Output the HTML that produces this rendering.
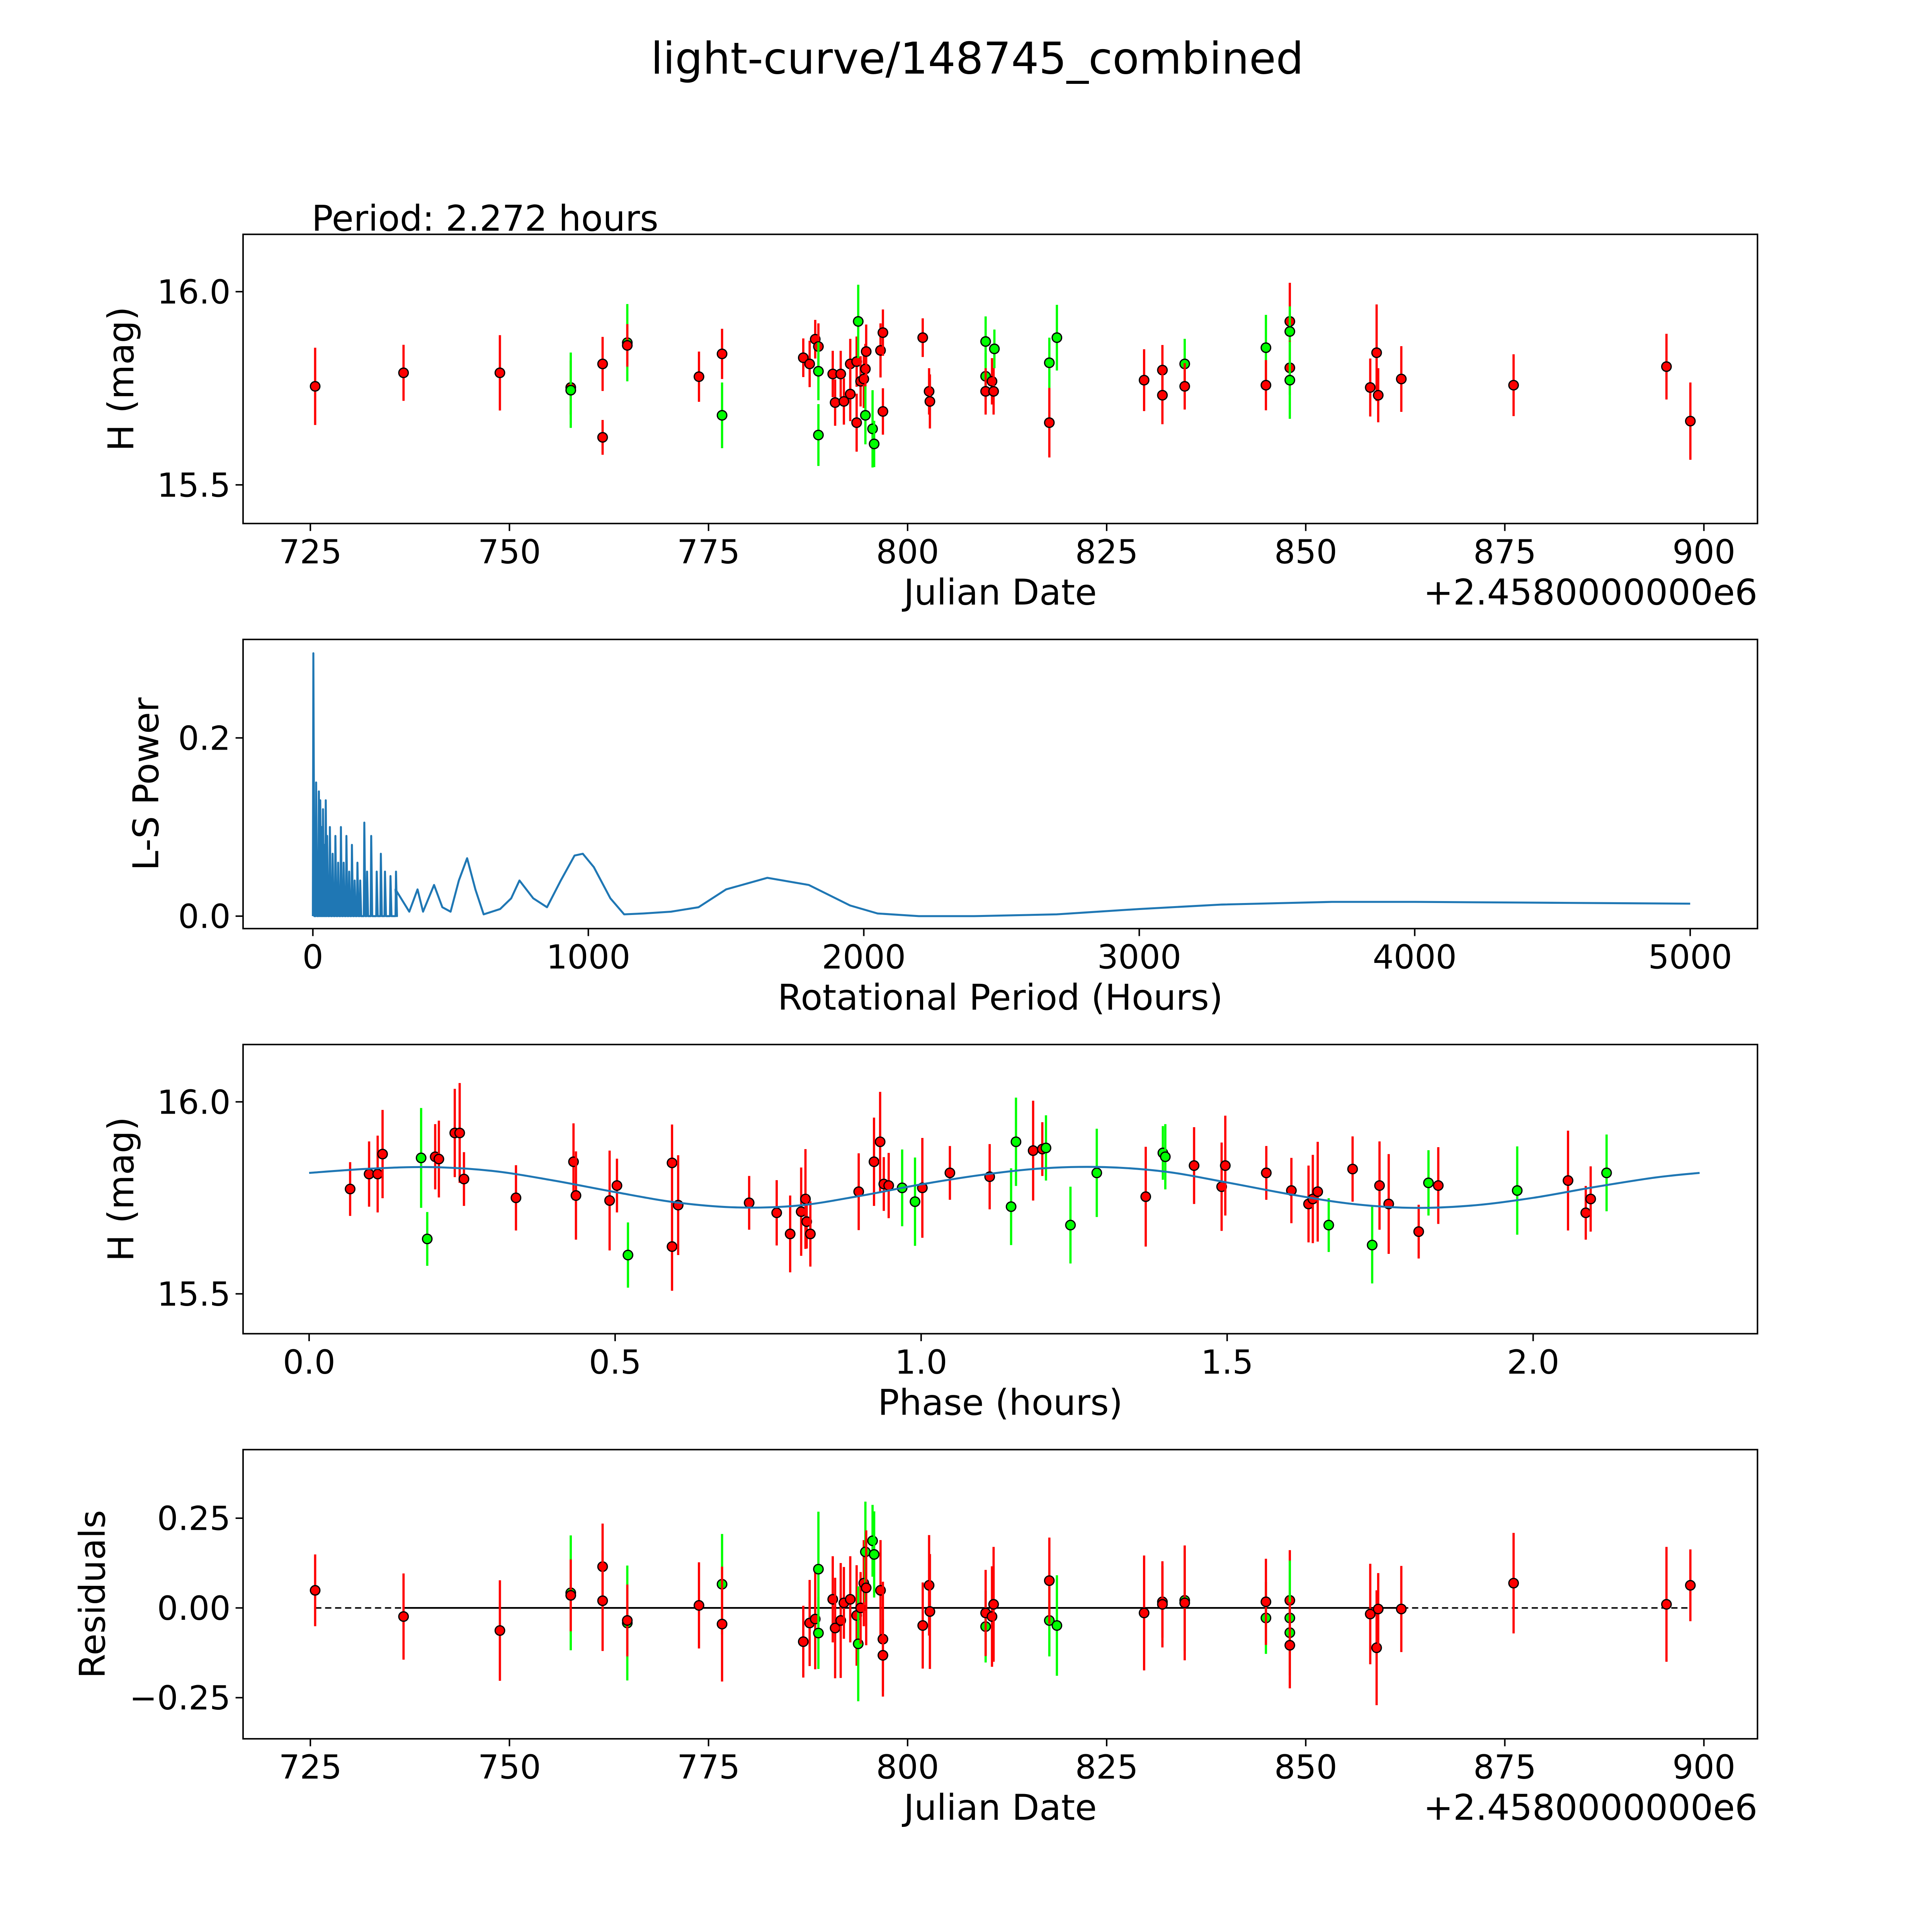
<!DOCTYPE html>
<html><head><meta charset="utf-8">
<style>
html,body{margin:0;padding:0;background:#fff;overflow:hidden;width:100%;height:100%;}
svg{display:block;width:100vw;height:100vh;}
text{font-family:"DejaVu Sans","Liberation Sans",sans-serif;fill:#000;}
</style></head>
<body>
<svg id="fig" viewBox="0 0 1550 1550" preserveAspectRatio="none" xmlns="http://www.w3.org/2000/svg">
<rect width="1550" height="1550" fill="#fff"/>
<text x="784" y="59" font-size="35" text-anchor="middle">light-curve/148745_combined</text>
<text x="250" y="185" font-size="28.5">Period: 2.272 hours</text>
</svg>
<script>
// ---- Panel 1: light curve ----
const lcDates=[725.6,736.7,748.8,757.7,757.7,761.7,761.7,764.8,764.8,773.8,776.7,776.7,786.9,787.7,788.4,788.8,788.8,788.8,790.6,790.9,791.6,792.0,792.8,792.8,793.6,793.8,793.6,794.1,794.5,794.7,794.8,794.7,795.6,795.8,796.6,796.9,796.9,801.9,802.7,802.8,809.8,809.8,809.8,810.6,810.8,810.9,817.8,817.8,818.75,829.7,832.0,832.0,834.8,834.8,845.0,845.0,848.0,848.0,848.0,848.0,858.1,858.9,859.1,862.0,876.1,895.3,898.3];
const lcMags=[15.755,15.79,15.79,15.752,15.745,15.813,15.623,15.868,15.861,15.78,15.839,15.68,15.829,15.813,15.877,15.858,15.794,15.629,15.787,15.713,15.787,15.716,15.813,15.735,15.819,15.923,15.661,15.768,15.774,15.8,15.845,15.68,15.645,15.606,15.848,15.894,15.69,15.881,15.742,15.716,15.871,15.781,15.742,15.768,15.742,15.852,15.816,15.661,15.881,15.771,15.797,15.732,15.813,15.755,15.855,15.758,15.923,15.897,15.803,15.771,15.752,15.842,15.732,15.774,15.758,15.806,15.665];
const lcErrs=[0.2,0.145,0.195,0.14,0.195,0.14,0.09,0.2,0.11,0.13,0.13,0.17,0.1,0.12,0.1,0.12,0.15,0.16,0.12,0.12,0.12,0.12,0.13,0.14,0.13,0.19,0.15,0.13,0.15,0.13,0.14,0.15,0.2,0.12,0.14,0.12,0.12,0.1,0.12,0.14,0.13,0.12,0.12,0.12,0.12,0.1,0.13,0.18,0.17,0.16,0.13,0.15,0.13,0.12,0.17,0.13,0.2,0.13,0.14,0.2,0.15,0.25,0.14,0.17,0.16,0.17,0.2];
const lcColors=['r','r','r','r','g','r','r','g','r','r','r','g','r','r','r','r','g','g','r','r','r','r','r','r','r','g','r','r','r','r','r','g','g','g','r','r','r','r','r','r','g','g','r','r','r','g','g','r','g','r','r','r','g','r','g','r','r','g','r','g','r','r','r','r','r','r','r'];
const lcXTicks=[725,750,775,800,825,850,875,900];
const lcYTicks=[15.5,16.0];
// ---- Panel 2: periodogram ----
const spikePeriods=[0,10,20,25,30,35,40,45,50,60,70,80,90,100,110,120,130,140,150,160,170,185,195,210,230,245,260,280,300];
const spikePowers=[0.295,0.15,0.14,0.13,0.1,0.12,0.08,0.13,0.09,0.1,0.07,0.09,0.06,0.1,0.06,0.09,0.05,0.08,0.04,0.06,0.04,0.105,0.05,0.09,0.05,0.07,0.05,0.045,0.05];
const lsPeriods=[300,350,380,400,440,470,500,530,560,590,620,680,720,750,800,850,900,950,980,1020,1080,1130,1200,1300,1400,1500,1650,1800,1950,2050,2200,2400,2700,3000,3300,3700,4000,4500,5000];
const lsPowers=[0.03,0.005,0.03,0.005,0.035,0.01,0.005,0.04,0.065,0.03,0.002,0.008,0.02,0.04,0.02,0.01,0.04,0.068,0.07,0.055,0.02,0.002,0.003,0.005,0.01,0.03,0.043,0.035,0.012,0.003,0.0,0.0,0.002,0.008,0.013,0.016,0.016,0.015,0.014];
const lsXTicks=[0,1000,2000,3000,4000,5000];
const lsYTicks=[0.0,0.2];
const lsYLabels=['0.0','0.2'];
// ---- Panel 3: phased ----
const phPhase=[0.067,0.098,0.112,0.120,0.183,0.193,0.206,0.212,0.238,0.246,0.253,0.338,0.432,0.436,0.491,0.503,0.521,0.593,0.593,0.603,0.719,0.764,0.786,0.804,0.811,0.813,0.819,0.898,0.923,0.933,0.939,0.947,0.969,0.990,1.002,1.047,1.112,1.147,1.155,1.183,1.198,1.204,1.244,1.287,1.367,1.395,1.399,1.446,1.491,1.497,1.564,1.605,1.633,1.640,1.648,1.666,1.705,1.737,1.749,1.764,1.813,1.829,1.845,1.974,2.057,2.086,2.094,2.120];
const phMags=[15.773,15.812,15.812,15.864,15.854,15.643,15.857,15.851,15.919,15.919,15.799,15.75,15.844,15.756,15.743,15.782,15.601,15.841,15.623,15.731,15.737,15.711,15.656,15.714,15.747,15.688,15.656,15.766,15.844,15.896,15.786,15.782,15.776,15.74,15.776,15.815,15.805,15.727,15.896,15.873,15.877,15.88,15.679,15.815,15.753,15.867,15.857,15.834,15.779,15.834,15.815,15.769,15.734,15.747,15.766,15.679,15.825,15.627,15.782,15.734,15.662,15.789,15.782,15.769,15.795,15.711,15.747,15.815];
const phColors=['r','r','r','r','g','g','r','r','r','r','r','r','r','r','r','r','g','r','r','r','r','r','r','r','r','r','r','r','r','r','r','r','g','g','r','r','r','g','g','r','r','g','g','g','r','g','g','r','r','r','r','r','r','r','r','g','r','g','r','r','r','g','r','g','r','r','r','g'];
const fitPhase=[0,0.1,0.2,0.3,0.4,0.5,0.6,0.7,0.8,0.9,1.0,1.1,1.2,1.3,1.4,1.5,1.6,1.7,1.8,1.9,2.0,2.1,2.2,2.272];
const fitMags=[15.815,15.826,15.83,15.82,15.795,15.765,15.738,15.725,15.73,15.755,15.785,15.81,15.827,15.83,15.818,15.79,15.76,15.735,15.724,15.73,15.75,15.778,15.803,15.815];
const phXTicks=[0.0,0.5,1.0,1.5,2.0];
// ---- Panel 4: residuals ----
const resDates=[725.6,736.7,748.8,757.7,757.7,761.7,761.7,764.8,764.8,773.8,776.7,776.7,786.9,787.7,788.4,788.8,788.8,790.6,790.9,791.6,792.0,792.8,793.6,793.8,794.1,794.5,794.7,794.8,795.6,795.8,796.6,796.9,796.9,801.9,802.7,802.8,809.8,809.8,810.6,810.8,817.8,817.8,818.75,829.7,832.0,832.0,834.8,834.8,845.0,845.0,848.0,848.0,848.0,848.0,858.1,858.9,859.1,862.0,876.1,895.3,898.3];
const resVals=[0.049,-0.024,-0.063,0.042,0.035,0.115,0.02,-0.042,-0.035,0.007,0.066,-0.045,-0.094,-0.042,-0.031,0.108,-0.07,0.024,-0.056,-0.035,0.014,0.024,-0.021,-0.1,0.0,0.069,0.156,0.056,0.187,0.149,0.049,-0.087,-0.132,-0.049,0.063,-0.01,-0.052,-0.014,-0.024,0.01,-0.035,0.076,-0.049,-0.014,0.017,0.01,0.021,0.014,-0.028,0.017,0.021,-0.028,-0.069,-0.104,-0.017,-0.111,-0.003,-0.003,0.069,0.01,0.063];
const resColors=['r','r','r','g','r','r','r','g','r','r','g','r','r','r','r','g','g','r','r','r','r','r','r','g','r','r','g','r','g','g','r','r','r','r','r','r','g','r','r','r','g','r','g','r','r','r','g','r','g','r','r','g','g','r','r','r','r','r','r','r','r'];
const resYTicks=[-0.25,0.0,0.25];
const resYLabels=['\u22120.25','0.00','0.25'];

const NS='http://www.w3.org/2000/svg';
const svg=document.getElementById('fig');
function mk(tag,attrs,parent){const e=document.createElementNS(NS,tag);for(const k in attrs)e.setAttribute(k,attrs[k]);(parent||svg).appendChild(e);return e;}
function lin(d0,d1,r0,r1){return v=>r0+(v-d0)*(r1-r0)/(d1-d0);}
const COL={r:'#ff0000',g:'#00ff00'};
const L=195,R=1410;
const TF=26.5, LF=28.5;

function frame(name,top,bot,xs,xt,xl,ys,yt,yl,xlabel,ylabel,ylabX){
  const g=mk('g',{});
  
  
  const fr=mk('rect',{x:L,y:top,width:R-L,height:bot-top,fill:'none',stroke:'#000','stroke-width':1.2},g);
  
  
  xt.forEach((v,i)=>{const x=xs(v);
    mk('line',{x1:x,x2:x,y1:bot,y2:bot+6,stroke:'#000','stroke-width':1.2},g);
    const t=mk('text',{x:x,y:bot+32,'font-size':TF,'text-anchor':'middle'},g);t.textContent=xl[i];
    
    });
  yt.forEach((v,i)=>{const y=ys(v);
    mk('line',{x1:L-6,x2:L,y1:y,y2:y,stroke:'#000','stroke-width':1.2},g);
    const t=mk('text',{x:L-10,y:y+9.5,'font-size':TF,'text-anchor':'end'},g);t.textContent=yl[i];
    
    });
  const xa=mk('text',{x:(L+R)/2,y:bot+65,'font-size':LF,'text-anchor':'middle'},g);xa.textContent=xlabel;
  
  
  const cy=(top+bot)/2;
  const ya=mk('text',{x:ylabX,y:cy,'font-size':LF,'text-anchor':'middle',transform:`rotate(-90 ${ylabX} ${cy})`},g);ya.textContent=ylabel;
  
  
  return g;
}
function offset(g,bot){const t=mk('text',{x:R,y:bot+65,'font-size':LF,'text-anchor':'end'},g);t.textContent='+2.4580000000e6';
  
  }
function point(g,x,y,y1,y2,c){
  const l=mk('line',{x1:x,x2:x,y1:y1,y2:y2,stroke:COL[c],'stroke-width':1.8},g);
  
  
  const p=mk('circle',{cx:x,cy:y,r:3.8,fill:COL[c],stroke:'#000','stroke-width':1},g);
  
  
}

// Panel 1
(function(){
  const top=188,bot=420;
  const xs=lin(725,900,249,1367), ys=lin(15.5,16.0,389,234);
  const g=frame('light-curve-panel',top,bot,xs,lcXTicks,lcXTicks.map(String),ys,lcYTicks,['15.5','16.0'],'Julian Date','H (mag)',107);
  offset(g,bot);
  lcDates.forEach((d,i)=>point(g,xs(d),ys(lcMags[i]),ys(lcMags[i]+lcErrs[i]*0.5),ys(lcMags[i]-lcErrs[i]*0.5),lcColors[i]));
})();

// Panel 2
(function(){
  const top=513,bot=745;
  const xs=lin(0,5000,251,1356), ys=lin(0,0.2,735,592);
  const g=frame('periodogram-panel',top,bot,xs,lsXTicks,lsXTicks.map(String),ys,lsYTicks,lsYLabels,'Rotational Period (Hours)','L-S Power',127);
  let pts=[];
  spikePeriods.forEach((p,i)=>{pts.push([xs(p),ys(0)]);pts.push([xs(p)+0.4,ys(spikePowers[i])]);pts.push([xs(p)+1.2,ys(0)]);});
  lsPeriods.forEach((p,i)=>pts.push([xs(p),ys(lsPowers[i])]));
  const pl=mk('polyline',{points:pts.map(p=>p.join(',')).join(' '),fill:'none',stroke:'#1f77b4','stroke-width':1.6,'stroke-linejoin':'round'},g);
  
  
})();

// Panel 3
(function(){
  const top=838,bot=1070;
  const xs=lin(0,2,248,1230), ys=lin(15.5,16.0,1038,884);
  const g=frame('phase-panel',top,bot,xs,phXTicks,phXTicks.map(v=>v.toFixed(1)),ys,[15.5,16.0],['15.5','16.0'],'Phase (hours)','H (mag)',107);
  let d='';
  for(let i=0;i<fitPhase.length-1;i++){
    const x0=xs(fitPhase[i]),y0=ys(fitMags[i]),x1=xs(fitPhase[i+1]),y1=ys(fitMags[i+1]);
    const xm=i>0?xs(fitPhase[i-1]):x0, ym=i>0?ys(fitMags[i-1]):y0;
    const xn=i<fitPhase.length-2?xs(fitPhase[i+2]):x1, yn=i<fitPhase.length-2?ys(fitMags[i+2]):y1;
    if(i===0)d+=`M${x0},${y0}`;
    d+=` C${x0+(x1-xm)/6},${y0+(y1-ym)/6} ${x1-(xn-x0)/6},${y1-(yn-y0)/6} ${x1},${y1}`;
  }
  phPhase.forEach((p,i)=>{const e=0.07+(i%5)*0.015;point(g,xs(p),ys(phMags[i]),ys(phMags[i]+e),ys(phMags[i]-e),phColors[i]);});
  const fit=mk('path',{d:d,fill:'none',stroke:'#1f77b4','stroke-width':1.6},g);
  
  
})();

// Panel 4
(function(){
  const top=1163,bot=1395;
  const xs=lin(725,900,249,1367), ys=lin(-0.25,0.25,1362,1218);
  const g=frame('residuals-panel',top,bot,xs,lcXTicks,lcXTicks.map(String),ys,resYTicks,resYLabels,'Julian Date','Residuals',84);
  offset(g,bot);
  const dl=mk('line',{x1:xs(725.6),x2:xs(898.3),y1:ys(0),y2:ys(0),stroke:'#000','stroke-width':1.2,'stroke-dasharray':'5,3'},g);
  
  
  const sl=mk('line',{x1:xs(736.7),x2:xs(862),y1:ys(0),y2:ys(0),stroke:'#000','stroke-width':1.4},g);
  
  
  resDates.forEach((d,i)=>{const e=0.1+(i%4)*0.02;point(g,xs(d),ys(resVals[i]),ys(resVals[i]+e),ys(resVals[i]-e),resColors[i]);});
})();
</script>
</body></html>
